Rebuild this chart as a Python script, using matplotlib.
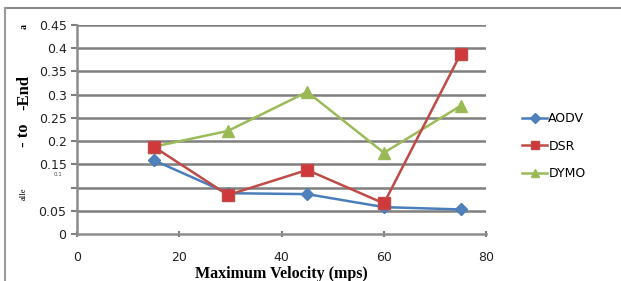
import matplotlib.pyplot as plt
from matplotlib.lines import Line2D

# data
velocity = [15, 29.5, 45, 60, 75]
aodv = [0.159, 0.088, 0.086, 0.058, 0.053]
dsr = [0.188, 0.084, 0.138, 0.066, 0.388]
dymo = [0.188, 0.222, 0.306, 0.175, 0.276]

x_ticks = [0, 20, 40, 60, 80]
y_ticks = [0, 0.05, 0.1, 0.15, 0.2, 0.25, 0.3, 0.35, 0.4, 0.45]
y_labels = ['0', '0.05', '', '0.15', '0.2', '0.25', '0.3', '0.35', '0.4', '0.45']

fig = plt.figure(figsize=(6.21, 2.81), dpi=100)
ax = fig.add_axes([0.124, 0.167, 0.659, 0.744])

# frame around the picture (top and left edge only)
fig.add_artist(Line2D([0.008, 0.998], [0.972, 0.972], color='#8c8c8c', lw=1.5))
fig.add_artist(Line2D([0.008, 0.008], [0.0, 0.972], color='#9a9a9a', lw=1.5))

for y in y_ticks[1:]:
    ax.axhline(y, color='#7f7f7f', lw=1.8, zorder=1)

ax.plot(velocity, aodv, color='#4a7ebb', lw=1.8, marker='D', markersize=6,
        markerfacecolor='#4f81bd', markeredgecolor='#4a7ebb', label='AODV', zorder=3)
ax.plot(velocity, dsr, color='#be4b48', lw=1.8, marker='s', markersize=8,
        markerfacecolor='#d0393b', markeredgecolor='#be4b48', label='DSR', zorder=4)
ax.plot(velocity, dymo, color='#9bbb59', lw=1.8, marker='^', markersize=8,
        markerfacecolor='#98b954', markeredgecolor='#9bbb59', label='DYMO', zorder=2)

ax.set_xlim(0, 80)
ax.set_ylim(0, 0.45)
ax.set_xticks(x_ticks)
ax.set_yticks(y_ticks)
ax.set_yticklabels(y_labels)
ax.tick_params(axis='both', labelsize=9, colors='#7f7f7f', labelcolor='#222222',
               width=1.5, length=4)
ax.tick_params(axis='x', direction='inout', pad=10)
for s in ['top', 'right']:
    ax.spines[s].set_visible(False)
for s in ['left', 'bottom']:
    ax.spines[s].set_color('#8c8c8c')
    ax.spines[s].set_linewidth(1.8)

ax.set_xlabel('Maximum Velocity (mps)', family='Liberation Serif', fontweight='bold',
              fontsize=11.5, labelpad=1.5)

# garbled y-axis label fragments
fig.text(0.039, 0.672, '-End', rotation=90, family='Liberation Serif', fontweight='bold',
         fontsize=12, ha='center', va='center')
fig.text(0.039, 0.52, '- to', rotation=90, family='Liberation Serif', fontweight='bold',
         fontsize=12, ha='center', va='center')
fig.text(0.039, 0.31, 'alle', rotation=90, family='Liberation Serif', fontsize=6,
         ha='center', va='center')
fig.text(0.039, 0.904, 'a', rotation=90, family='Liberation Serif', fontweight='bold',
         fontsize=7, ha='center', va='center')
fig.text(0.093, 0.38, '0.1', fontsize=4, ha='center', va='center', color='#444444')

ax.legend(loc='center left', bbox_to_anchor=(1.06, 0.42), frameon=False, fontsize=9,
          handlelength=2.0, handletextpad=0.1, labelspacing=1.15, markerscale=0.8)

fig.savefig('out.png', dpi=100)
